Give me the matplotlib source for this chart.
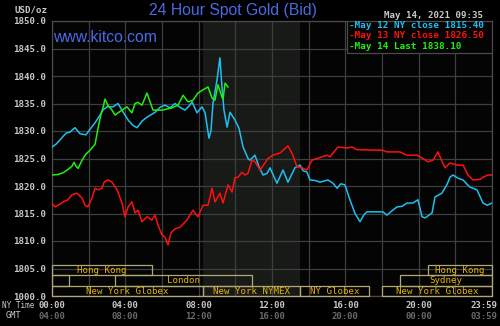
# 24 Hour Spot Gold (Bid) - kitco style chart
# output: out.png (500x326)

import matplotlib
matplotlib.use('Agg')
import matplotlib.pyplot as plt
from matplotlib.patches import Rectangle

# ===== data (NY time in hours, USD/oz) =====
may12_t = [0.00, 0.22, 0.44, 0.76, 0.98, 1.25, 1.53, 1.85, 2.07, 2.35, 2.62, 2.78, 3.00,
           3.33, 3.60, 3.87, 4.15, 4.42, 4.64, 4.91, 5.18, 5.62, 5.89, 6.16, 6.44, 6.71,
           6.98, 7.25, 7.47, 7.64, 7.91, 8.18, 8.35, 8.56, 8.67, 8.78, 9.00, 9.16, 9.27,
           9.38, 9.55, 9.71, 9.98, 10.20, 10.42, 10.69, 10.80, 11.07, 11.29, 11.51, 11.73,
           11.89, 12.27, 12.60, 12.87, 13.25, 13.53, 13.69, 13.91, 14.07, 14.35, 14.62,
           15.05, 15.33, 15.55, 15.76, 15.98, 16.25, 16.53, 16.80, 17.02, 17.18, 18.05,
           18.27, 18.55, 18.82, 19.09, 19.36, 19.69, 19.96, 20.07, 20.18, 20.35, 20.73,
           20.89, 21.27, 21.55, 21.71, 21.87, 22.15, 22.42, 22.64, 22.80, 23.18, 23.51,
           23.73, 24.00]
may12_v = [1827.1, 1827.6, 1828.4, 1829.6, 1829.8, 1830.6, 1829.5, 1829.3, 1830.3, 1831.5,
           1832.9, 1833.8, 1834.4, 1834.4, 1835.0, 1833.5, 1832.0, 1831.0, 1830.6, 1831.8,
           1832.5, 1833.4, 1834.3, 1834.7, 1834.2, 1835.0, 1834.3, 1833.8, 1834.5, 1835.3,
           1833.3, 1834.4, 1833.3, 1828.7, 1830.0, 1835.0, 1839.3, 1843.3, 1838.0, 1833.8,
           1830.7, 1833.4, 1832.0, 1830.5, 1827.1, 1825.0, 1824.7, 1825.6, 1823.5, 1822.0,
           1822.3, 1823.3, 1820.5, 1822.9, 1820.7, 1823.3, 1823.8, 1822.8, 1822.5, 1821.1,
           1821.0, 1820.7, 1821.1, 1820.5, 1819.6, 1820.4, 1820.2, 1817.5, 1815.0, 1813.5,
           1814.8, 1815.3, 1815.3, 1814.7, 1815.5, 1816.2, 1816.3, 1816.9, 1816.9, 1817.5,
           1816.0, 1814.4, 1814.2, 1815.1, 1818.0, 1818.7, 1820.3, 1821.6, 1822.0, 1821.4,
           1821.1, 1820.3, 1819.8, 1819.3, 1816.9, 1816.5, 1816.9]

may13_t = [0.00, 0.16, 0.44, 0.60, 0.87, 1.09, 1.36, 1.64, 1.80, 1.96, 2.18, 2.35, 2.51,
           2.73, 2.84, 3.05, 3.27, 3.55, 3.82, 3.98, 4.15, 4.36, 4.53, 4.69, 4.91, 5.18,
           5.45, 5.62, 5.78, 6.00, 6.16, 6.33, 6.49, 6.71, 6.98, 7.36, 7.69, 7.96, 8.24,
           8.51, 8.73, 8.89, 9.16, 9.33, 9.60, 9.82, 9.98, 10.15, 10.36, 10.53, 10.69,
           10.91, 11.07, 11.24, 11.35, 11.62, 11.78, 12.05, 12.44, 12.60, 12.87, 13.09,
           13.36, 13.64, 13.91, 14.18, 14.45, 14.73, 15.00, 15.16, 15.38, 15.60, 16.09,
           16.36, 16.64, 18.05, 18.27, 18.98, 19.36, 19.91, 20.24, 20.51, 20.78, 21.05,
           21.27, 21.44, 21.71, 22.09, 22.42, 22.69, 22.96, 23.35, 23.51, 23.78, 24.00]
may13_v = [1816.9, 1816.2, 1816.7, 1817.1, 1817.5, 1818.4, 1818.7, 1817.8, 1816.5, 1816.2,
           1817.8, 1819.6, 1819.3, 1819.6, 1820.7, 1821.1, 1820.7, 1819.3, 1816.9, 1814.4,
           1816.2, 1817.1, 1815.1, 1815.6, 1813.5, 1814.4, 1813.8, 1814.7, 1812.9, 1811.1,
           1810.7, 1809.3, 1811.5, 1812.2, 1812.5, 1813.8, 1815.6, 1814.4, 1816.5, 1816.5,
           1819.6, 1817.1, 1818.7, 1816.9, 1820.2, 1818.9, 1821.5, 1821.6, 1822.5, 1822.0,
           1822.3, 1824.7, 1824.4, 1823.5, 1822.9, 1824.2, 1825.0, 1825.6, 1826.0, 1826.5,
           1827.3, 1826.0, 1823.5, 1823.3, 1822.9, 1824.7, 1825.0, 1825.3, 1825.6, 1825.3,
           1826.2, 1827.1, 1826.9, 1827.1, 1826.6, 1826.5, 1826.2, 1826.2, 1825.6, 1825.6,
           1825.0, 1824.4, 1824.7, 1826.2, 1824.5, 1823.3, 1824.2, 1823.8, 1823.8, 1822.0,
           1821.1, 1821.2, 1821.6, 1822.0, 1822.0]

may14_t = [0.00, 0.33, 0.60, 0.87, 1.09, 1.20, 1.31, 1.42, 1.64, 1.85, 2.07, 2.35, 2.51,
           2.67, 2.78, 2.89, 3.05, 3.27, 3.44, 3.60, 3.82, 4.09, 4.36, 4.53, 4.69, 4.91,
           5.18, 5.35, 5.51, 5.78, 6.00, 6.27, 6.55, 6.87, 7.15, 7.42, 7.69, 7.96, 8.24,
           8.51, 8.73, 8.89, 9.05, 9.27, 9.33, 9.44, 9.60]
may14_v = [1822.0, 1822.1, 1822.4, 1823.0, 1823.6, 1824.3, 1823.6, 1823.2, 1824.7, 1825.8,
           1826.5, 1827.6, 1830.5, 1833.0, 1834.2, 1835.8, 1834.7, 1833.8, 1832.9, 1833.3,
           1833.8, 1834.4, 1833.3, 1835.0, 1835.2, 1834.7, 1836.9, 1835.3, 1833.8, 1833.8,
           1833.8, 1834.0, 1834.2, 1834.7, 1836.5, 1835.3, 1835.6, 1836.9, 1837.5, 1838.0,
           1836.0, 1835.6, 1838.4, 1836.2, 1835.8, 1838.7, 1838.0]

legend_labels = ['May 12 NY close 1815.40', 'May 13 NY close 1826.50', 'May 14 Last 1838.10']

y_ticks = [1800, 1805, 1810, 1815, 1820, 1825, 1830, 1835, 1840, 1845, 1850]
y_ticklabels = ['1000.0', '1805.0', '1810.0', '1815.0', '1820.0', '1825.0',
                '1830.0', '1835.0', '1840.0', '1845.0', '1850.0']
ny_hours = [0, 4, 8, 12, 16, 20, 24]
ny_labels = ['00:00', '04:00', '08:00', '12:00', '16:00', '20:00', '23:59']
gmt_labels = ['04:00', '08:00', '12:00', '16:00', '20:00', '00:00', '03:59']

# trading sessions: (row, start, end, label)
sessions = [
    (0, 0.00, 5.45, 'Hong Kong'),
    (0, 20.50, 24.00, 'Hong Kong'),
    (1, 0.00, 0.93, ''),
    (1, 3.45, 10.90, 'London'),
    (1, 19.00, 24.00, 'Sydney'),
    (2, 0.00, 8.25, 'New York Globex'),
    (2, 8.25, 13.50, 'New York NYMEX'),
    (2, 13.50, 17.30, 'NY Globex'),
    (2, 18.00, 24.00, 'New York Globex'),
]
comex_start, comex_end = 8.25, 13.5

# ===== style =====
BG = '#000000'
GRID = '#3e3e3e'
TXT = '#c8c8c8'
C12, C13, C14 = '#1ec0f0', '#ff1010', '#22ee10'
BLUE = '#4a6ae6'
MONO = ['DejaVu Sans Mono']

W, H = 500, 326
fig = plt.figure(figsize=(W / 100, H / 100), dpi=100, facecolor=BG)
ax = fig.add_axes([52 / W, 1 - 296 / H, 440 / W, 275 / H], facecolor='#040404')

ax.set_xlim(0, 24)
ax.set_ylim(1800, 1850)

# COMEX shading
ax.axvspan(comex_start, comex_end, facecolor='#171a17', edgecolor='none', zorder=0)

ax.set_xticks(range(0, 25, 2))
ax.set_yticks(y_ticks)
ax.set_yticklabels(y_ticklabels, family=MONO, fontsize=6.6, fontweight='bold', color=TXT)
ax.tick_params(axis='x', length=0, labelbottom=False)
ax.tick_params(axis='y', length=0, pad=4)
ax.grid(True, color=GRID, linewidth=0.9, zorder=1)
for sp in ax.spines.values():
    sp.set_color('#4a4a4a')
    sp.set_linewidth(0.9)

# price lines
ax.plot(may12_t, may12_v, color=C12, lw=1.1, zorder=3)
ax.plot(may13_t, may13_v, color=C13, lw=1.1, zorder=3)
ax.plot(may14_t, may14_v, color=C14, lw=1.1, zorder=4)

# session boxes
row_edges = [(1803.8, 1805.6), (1801.85, 1803.8), (1800.0, 1801.85)]
for row, t0, t1, label in sessions:
    lo, hi = row_edges[row]
    ax.add_patch(Rectangle((t0, lo), t1 - t0, hi - lo, facecolor='none',
                           edgecolor='#b0a878', linewidth=0.9, zorder=5, clip_on=False))
    if label:
        ax.text((t0 + t1) / 2, (lo + hi) / 2 - 0.05, label, family=MONO, fontsize=6.6,
                color='#e8b400', ha='center', va='center', zorder=6)

# legend box
ax.add_patch(Rectangle((16.09, 1844.2), 24 - 16.09, 5.8, facecolor='#040404',
                       edgecolor='#4a4a4a', linewidth=0.9, zorder=7))
for lab, col, yv in zip(legend_labels, [C12, C13, C14], [1849.1, 1847.3, 1845.45]):
    ax.text(16.22, yv, '-' + lab, family=MONO, fontsize=6.7, fontweight='bold',
            color=col, ha='left', va='center', zorder=8)

# x labels (NY time / GMT)
xt = ax.get_xaxis_transform()
for h, ny, gmt in zip(ny_hours, ny_labels, gmt_labels):
    ha = 'right' if h == 24 else 'center'
    hx = 24.28 if h == 24 else h
    ax.text(hx, -0.033, ny, transform=xt, family=MONO, fontsize=6.5, fontweight='bold',
            color=TXT, ha=ha, va='center', clip_on=False)
    ax.text(hx, -0.073, gmt, transform=xt, family=MONO, fontsize=6.5, fontweight='bold',
            color='#6a6a6a', ha=ha, va='center', clip_on=False)
fig.text(34 / W, 1 - 305 / H, 'NY Time', family=MONO, fontsize=5.6, color=TXT,
         ha='right', va='center')
fig.text(14 / W, 1 - 316 / H, 'GMT', family=MONO, fontsize=6.2, color=TXT,
         ha='center', va='center')

# titles
fig.text(233 / W, 1 - 11 / H, '24 Hour Spot Gold (Bid)', family='Liberation Sans',
         fontsize=11.3, color=BLUE, ha='center', va='center')
fig.text(53 / W, 1 - 37.5 / H, 'www.kitco.com', family='Liberation Sans',
         fontsize=11.3, color=BLUE, ha='left', va='center')
fig.text(31 / W, 1 - 10 / H, 'USD/oz', family=MONO, fontsize=6.6, fontweight='bold',
         color=TXT, ha='center', va='center')
fig.text(434 / W, 1 - 15 / H, 'May 14, 2021 09:35', family=MONO, fontsize=6.6,
         fontweight='bold', color=TXT, ha='center', va='center')

fig.savefig('out.png', dpi=100, facecolor=BG)
